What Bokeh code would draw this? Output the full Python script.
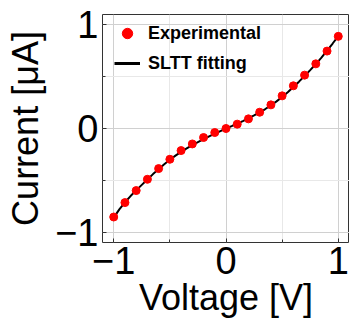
import math
from bokeh.plotting import figure
from bokeh.models import FixedTicker, Range1d, Legend, LegendItem
from bokeh.embed import file_html
from bokeh.resources import INLINE

# Data
voltage = [-1.0, -0.9, -0.8, -0.7, -0.6, -0.5, -0.4, -0.3, -0.2, -0.1, 0.0,
           0.1, 0.2, 0.3, 0.4, 0.5, 0.6, 0.7, 0.8, 0.9, 1.0]
current_exp = [-0.854, -0.715, -0.599, -0.490, -0.387, -0.297, -0.213, -0.149, -0.087, -0.039, 0.0,
               0.042, 0.093, 0.157, 0.228, 0.315, 0.412, 0.515, 0.624, 0.747, 0.889]
fit_v = [-1.0, -0.95, -0.9, -0.85, -0.8, -0.75, -0.7, -0.65, -0.6, -0.55, -0.5, -0.45, -0.4,
         -0.35, -0.3, -0.25, -0.2, -0.15, -0.1, -0.05, 0.0, 0.05, 0.1, 0.15, 0.2, 0.25, 0.3,
         0.35, 0.4, 0.45, 0.5, 0.55, 0.6, 0.65, 0.7, 0.75, 0.8, 0.85, 0.9, 0.95, 1.0]
fit_i = [-0.860, -0.780, -0.712, -0.652, -0.597, -0.544, -0.492, -0.440, -0.392, -0.345, -0.302,
         -0.262, -0.225, -0.192, -0.160, -0.131, -0.103, -0.076, -0.050, -0.025, 0.0,
         0.023, 0.047, 0.072, 0.098, 0.126, 0.156, 0.188, 0.223, 0.262, 0.304,
         0.350, 0.400, 0.452, 0.507, 0.563, 0.622, 0.684, 0.752, 0.820, 0.892]
ticks = [-1, 0, 1]
minor = [-0.5, 0.5]

p = figure(width=349, height=331, output_backend="svg", toolbar_location=None,
           x_range=Range1d(-1.1, 1.1), y_range=Range1d(-1.1, 1.1),
           min_border_left=102, min_border_right=0, min_border_top=14, min_border_bottom=89)

p.background_fill_color = "white"
p.border_fill_color = "white"
p.outline_line_color = "#333333"
p.outline_line_width = 1

for ax in (p.xaxis[0], p.yaxis[0]):
    ax.ticker = FixedTicker(ticks=ticks, minor_ticks=minor)
    ax.axis_line_color = None
    ax.major_tick_in = 4
    ax.major_tick_out = 0
    ax.minor_tick_in = 3
    ax.minor_tick_out = 0
    ax.major_tick_line_color = "#333333"
    ax.minor_tick_line_color = "#333333"
    ax.major_label_text_font = "Liberation Sans"
    ax.major_label_text_font_size = "38px"
    ax.major_label_text_color = "black"
    ax.axis_label_text_font = "Liberation Sans"
    ax.axis_label_text_font_size = "36px"
    ax.axis_label_text_font_style = "normal"
    ax.axis_label_text_color = "black"

p.xaxis.major_label_overrides = {-1: "\u22121", 0: "0", 1: "1"}
p.yaxis.major_label_overrides = {-1: "\u22121", 0: "0", 1: "1"}
p.xaxis.axis_label = "Voltage [V]"
p.yaxis.axis_label = "Current [\u03bcA]"
p.xaxis.major_label_standoff = 4
p.yaxis.major_label_standoff = 4
p.xaxis.axis_label_standoff = 0
p.yaxis.axis_label_standoff = 6

for g in (p.xgrid[0], p.ygrid[0]):
    g.grid_line_color = "#d0d0d0"
    g.grid_line_width = 1
    g.minor_grid_line_color = "#e8e8e8"
    g.minor_grid_line_width = 1

line_r = p.line(fit_v, fit_i, line_color="black", line_width=2)
pts_r = p.scatter(voltage, current_exp, size=8, fill_color="red", line_color="red")

# legend-only renderers (larger glyphs, not drawn in the plot)
nan = float("nan")
leg_pts = p.scatter(x=[nan], y=[nan], size=12, fill_color="red", line_color="red")
leg_line = p.line(x=[nan, nan], y=[nan, nan], line_color="black", line_width=3)

legend = Legend(items=[LegendItem(label="Experimental", renderers=[leg_pts]),
                       LegendItem(label="SLTT fitting", renderers=[leg_line])],
                location=(12, 164), orientation="vertical")
legend.border_line_color = None
legend.background_fill_alpha = 0
legend.label_text_font = "Liberation Sans"
legend.label_text_font_style = "bold"
legend.label_text_font_size = "18px"
legend.label_text_color = "black"
legend.glyph_width = 26
legend.glyph_height = 30
legend.label_height = 30
legend.label_standoff = 8
legend.spacing = 0
legend.padding = 0
legend.margin = 0
p.add_layout(legend, "center")

open("out.html", "w").write(file_html(p, INLINE))
